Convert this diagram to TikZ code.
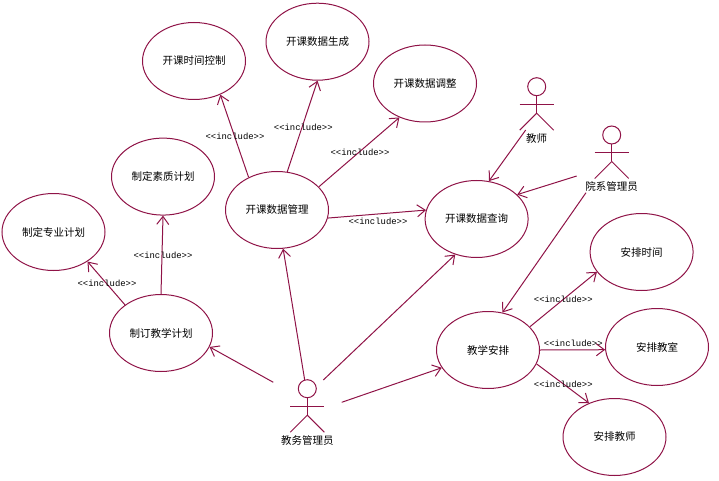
\documentclass[tikz,border=0pt]{standalone}
\usepackage{fontspec}
\newfontfamily\cjk{Noto Sans CJK SC}
\setmonofont{Liberation Mono}
\usetikzlibrary{shapes.geometric,arrows.meta}
\definecolor{umlred}{HTML}{8F1347}
\tikzset{
    usecase/.style={draw=umlred, ellipse, minimum width=103pt, minimum height=77pt, inner sep=0pt, font=\cjk\fontsize{10.5}{12}\selectfont},
    actorname/.style={inner sep=0pt, font=\cjk\fontsize{10.5}{12}\selectfont},
    stereo/.style={inner sep=0pt, font=\ttfamily\fontsize{8.9}{10}\selectfont},
    assoc/.style={draw=umlred, ->},
}
\begin{document}
\begin{tikzpicture}[x=1pt, y=-1pt, line width=1pt, >={Straight Barb[length=8pt, width=12pt]}]
        \def\inc{<{}<include>{}>}
        \useasboundingbox (0,0) rectangle (719,481);

        \node[usecase] (sjkz) at (194,61) {开课时间控制};
        \node[usecase] (sjsc) at (317.5,41.7) {开课数据生成};
        \node[usecase] (sjtz) at (425,83.5) {开课数据调整};
        \node[usecase] (szjh) at (163,176.6) {制定素质计划};
        \node[usecase] (zyjh) at (53.5,232) {制定专业计划};
        \node[usecase] (sjgl) at (277,210) {开课数据管理};
        \node[usecase] (sjcx) at (476.6,219) {开课数据查询};
        \node[usecase] (jxjh) at (161,333) {制订教学计划};
        \node[usecase] (jxap) at (488,350) {教学安排};
        \node[usecase] (apsj) at (641.6,252) {安排时间};
        \node[usecase] (apjs) at (657,347) {安排教室};
        \node[usecase] (apls) at (614.5,437) {安排教师};

        % actors: name, head position, text
        \foreach \name/\x/\y/\txt in {jwgl/307.3/388.7/教务管理员, js/536.7/86.7/教师, yxgl/611.7/135/院系管理员} {
            \draw[umlred] (\x,\y) circle (9);
            \draw[umlred] (\x,\y+9) -- (\x,\y+26.5);
            \draw[umlred] (\x-17,\y+17.5) -- (\x+17,\y+17.5);
            \draw[umlred] (\x-17,\y+43.5) -- (\x,\y+26.5) -- (\x+17,\y+43.5);
            \node[actorname] (\name) at (\x,\y+51.5) {\txt};
        }

        \coordinate (jwglA) at (273.3,382.3);
        \coordinate (jwglB) at (304.7,380);
        \coordinate (jwglC) at (323.3,380);
        \coordinate (jwglD) at (341.7,402.3);
        \coordinate (jsA) at (525.7,130);
        \coordinate (yxglA) at (576.7,176);
        \coordinate (yxglB) at (586,192.7);

        \draw[assoc] (jwglA) -- (jxjh.-16.6);
        \draw[assoc] (jwglB) -- (sjgl.-81);
        \draw[assoc] (jwglC) -- (sjcx.239);
        \draw[assoc] (jwglD) -- (jxap.201);
        \draw[assoc] (jsA) -- (sjcx.72.6);
        \draw[assoc] (yxglA) -- (sjcx.31);
        \draw[assoc] (yxglB) -- (jxap.69);

        \draw[assoc] (sjgl.131) -- (sjkz.-52);
        \draw[assoc] (sjgl.75) -- (sjsc.-90);
        \draw[assoc] (sjgl.29.6) -- (sjtz.233);
        \draw[assoc] (sjgl.-9) -- (sjcx.170.6);
        \draw[assoc] (jxjh.90) -- (szjh.-90);
        \draw[assoc] (jxjh.142) -- (zyjh.-41);
        \draw[assoc] (jxap.29) -- (apsj.204);
        \draw[assoc] (jxap.0) -- (apjs.183);
        \draw[assoc] (jxap.-16.4) -- (apls.127);

        \node[stereo] (incA) at (235,136) {\inc};
        \node[stereo] (incB) at (303.3,127.3) {\inc};
        \node[stereo] (incC) at (360,152) {\inc};
        \node[stereo] (incD) at (378,221) {\inc};
        \node[stereo] (incE) at (163,255) {\inc};
        \node[stereo] (incF) at (107,283) {\inc};
        \node[stereo] (incG) at (563.3,299.3) {\inc};
        \node[stereo] (incH) at (573.3,343.3) {\inc};
        \node[stereo] (incI) at (563.3,384) {\inc};
    \end{tikzpicture}
\end{document}
